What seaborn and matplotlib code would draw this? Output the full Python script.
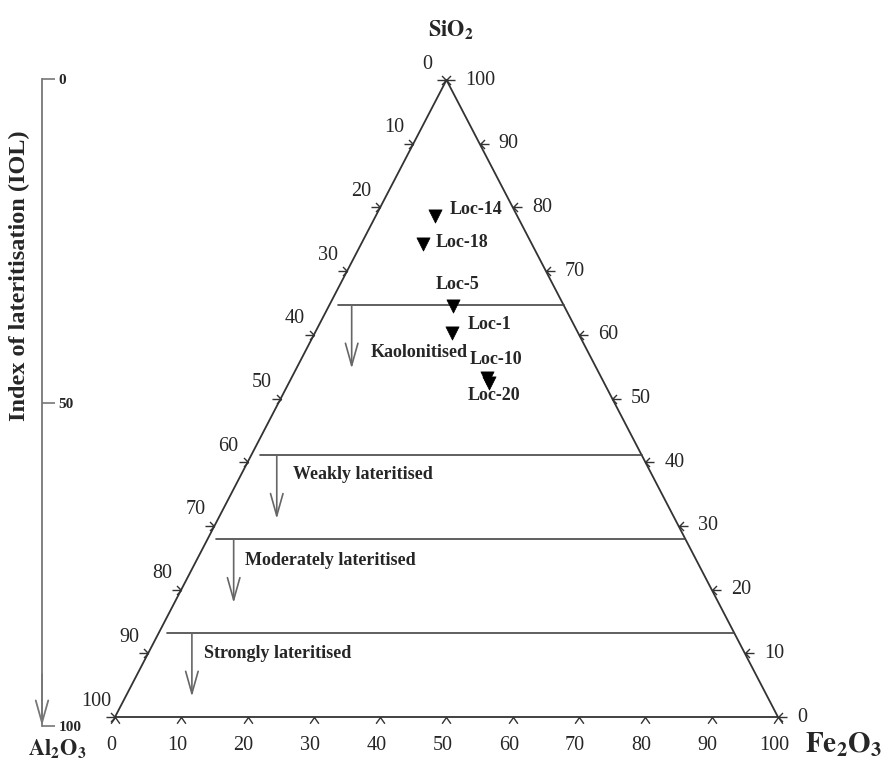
import numpy as np
import pandas as pd
import matplotlib
matplotlib.use('Agg')
import matplotlib.pyplot as plt
import seaborn as sns
from matplotlib.path import Path

# ---------------- data ----------------
samples = ['Loc-14', 'Loc-18', 'Loc-5', 'Loc-1', 'Loc-10', 'Loc-20']
sio2 = [78.6, 74.3, 64.5, 60.3, 53.2, 52.4]
al2o3 = [12.4, 16.4, 16.8, 19.0, 17.3, 17.4]
fe2o3 = [9.0, 9.3, 18.7, 20.7, 29.5, 30.2]

zone_names = ['Kaolonitised', 'Weakly lateritised', 'Moderately lateritised', 'Strongly lateritised']
zone_top_sio2 = [64.7, 41.1, 27.9, 13.2]

edge_ticks = list(range(0, 101, 10))
iol_ticks = [0, 50, 100]

# ---------------- layout (not data) ----------------
label_offsets_px = [(14, 7), (13, 1), (-17, 22), (16, 8), (-17, 19), (-21, -12)]
zone_line_inset = 1.3
arrow_x = [35.7, 24.4, 17.9, 11.6]
arrow_len = 10.0
zone_label_pos = [(38.5, 57.3), (26.9, 38.0), (19.6, 24.5), (13.4, 10.0)]


def tern(s, a, f):
    s = np.asarray(s, float); a = np.asarray(a, float); f = np.asarray(f, float)
    tot = s + a + f
    s = 100 * s / tot
    f = 100 * f / tot
    return f + s / 2, s


sns.set_style('white')
plt.rcParams['font.family'] = ['Liberation Serif', 'DejaVu Serif']
plt.rcParams['mathtext.fontset'] = 'stix'

fig = plt.figure(figsize=(8.82, 7.65), dpi=100)
ax = fig.add_axes([0, 0, 1, 1])
ax.set_xlim(-17.345, 115.69)
ax.set_ylim(-7.535, 112.56)
ax.axis('off')

edge_col = '#333333'
# triangle
cx, cy = tern([0, 0, 100, 0], [100, 0, 0, 100], [0, 100, 0, 0])
ax.plot(cx, cy, color=edge_col, lw=1.3, zorder=2)

M, L = Path.MOVETO, Path.LINETO
arrow_right = Path([(-1, 0), (0, 0), (-0.5, 0.5), (0, 0), (-0.5, -0.5)], [M, L, M, L, L])
arrow_left = Path([(1, 0), (0, 0), (0.5, 0.5), (0, 0), (0.5, -0.5)], [M, L, M, L, L])
chevron = Path([(-0.7, -1), (0, 0), (0.7, -1)], [M, L, L])

k = np.array(edge_ticks, float)
lx, ly = tern(100 - k, k, 0 * k)      # left edge: Al2O3 scale
rx, ry = tern(k, 0 * k, 100 - k)      # right edge: SiO2 scale
bx, by = tern(0 * k, 100 - k, k)      # bottom edge: Fe2O3 scale
ax.plot(lx, ly, ls='none', marker=arrow_right, ms=13, mfc='none', mec=edge_col, mew=1.0)
ax.plot(rx, ry, ls='none', marker=arrow_left, ms=13, mfc='none', mec=edge_col, mew=1.0)
ax.plot(bx, by, ls='none', marker=chevron, ms=9, mfc='none', mec=edge_col, mew=1.0)

for i, v in enumerate(edge_ticks):
    ax.annotate(str(v), (lx[i], ly[i]), xytext=(-19, 16), textcoords='offset pixels',
                ha='center', va='center', fontsize=14.5)
    ax.annotate(str(v), (rx[i], ry[i]), xytext=(19, 0), textcoords='offset pixels',
                ha='left', va='center', fontsize=14.5)
    ax.annotate(str(v), (bx[i], by[i]), xytext=(-4, -28), textcoords='offset pixels',
                ha='center', va='center', fontsize=14.5)

# zone boundaries and arrows
for i, (name, s) in enumerate(zip(zone_names, zone_top_sio2)):
    xl = s / 2 + zone_line_inset
    xr = 100 - s / 2
    ax.plot([xl, xr], [s, s], color='#444444', lw=1.2, zorder=2)
    ax.annotate('', xy=(arrow_x[i], s - arrow_len), xytext=(arrow_x[i], s),
                arrowprops=dict(arrowstyle='->,head_length=1.6,head_width=0.45',
                                color='#666666', lw=1.2, shrinkA=0, shrinkB=0))
    ax.text(zone_label_pos[i][0], zone_label_pos[i][1], name, ha='left', va='center',
            fontsize=13, fontweight='bold')

# samples
px, py = tern(sio2, al2o3, fe2o3)
df = pd.DataFrame({'x': px, 'y': py, 'sample': samples})
sns.scatterplot(data=df, x='x', y='y', marker='v', s=90, color='black',
                edgecolor='black', linewidth=0.5, ax=ax, legend=False, zorder=5)
for i, name in enumerate(samples):
    ax.annotate(name, (px[i], py[i]), xytext=label_offsets_px[i], textcoords='offset pixels',
                ha='left', va='center', fontsize=13, fontweight='bold')

# apex titles
fig.text(451 / 882, 1 - 30 / 765, r'$\mathbf{SiO_2}$', fontsize=16, ha='center', va='center')
fig.text(57 / 882, 1 - 749 / 765, r'$\mathbf{Al_2O_3}$', fontsize=16, ha='center', va='center')
fig.text(844 / 882, 1 - 745 / 765, r'$\mathbf{Fe_2O_3}$', fontsize=21, ha='center', va='center')

# IOL axis
ax2 = fig.add_axes([42 / 882 - 0.01, 39 / 765, 0.01, (726 - 79) / 765])
ax2.patch.set_visible(False)
for sp in ['left', 'top', 'bottom']:
    ax2.spines[sp].set_visible(False)
ax2.spines['right'].set_color('#777777')
ax2.spines['right'].set_linewidth(1.3)
ax2.set_xticks([])
ax2.yaxis.set_ticks_position('right')
ax2.set_ylim(100, 0)
ax2.set_yticks(iol_ticks)
ax2.set_yticklabels([str(t) for t in iol_ticks], fontsize=11, fontweight='bold')
ax2.tick_params(axis='y', direction='out', length=9, width=1.2, color='#777777', pad=3)
ax2.annotate('', xy=(1, 100), xycoords=ax2.get_yaxis_transform(), xytext=(1, 92),
             textcoords=ax2.get_yaxis_transform(),
             arrowprops=dict(arrowstyle='->,head_length=1.6,head_width=0.45',
                             color='#777777', lw=1.3, shrinkA=0, shrinkB=0))
fig.text(19 / 882, 1 - 276 / 765, 'Index of lateritisation (IOL)', rotation=90,
         ha='center', va='center', fontsize=17.5, fontweight='bold')

fig.savefig('out.png', dpi=100)
